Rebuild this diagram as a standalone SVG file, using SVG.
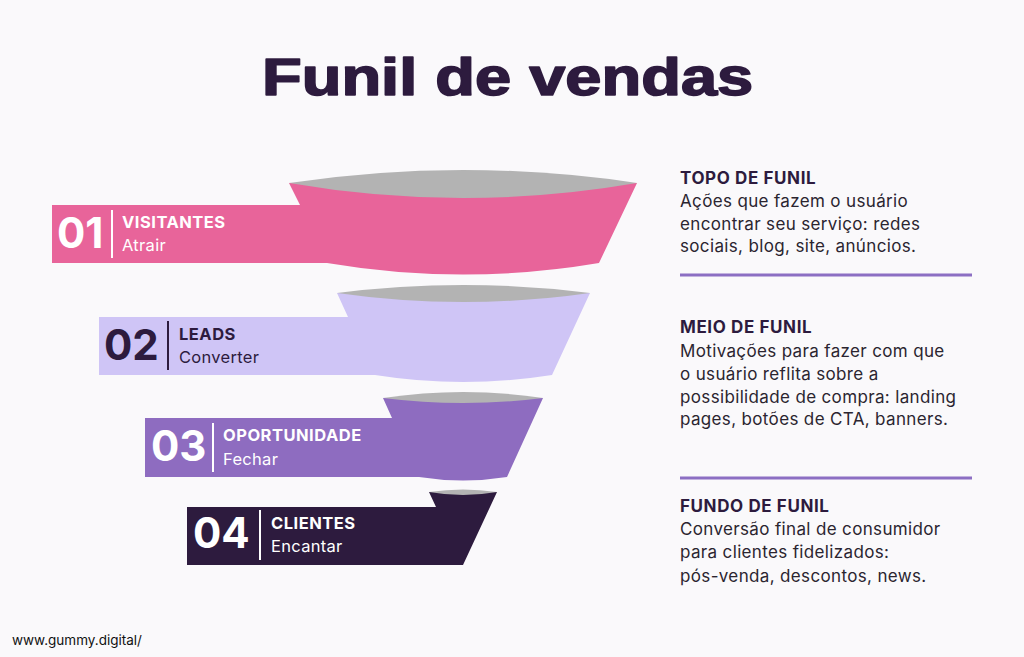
<svg xmlns="http://www.w3.org/2000/svg" width="1024" height="657" viewBox="0 0 1024 657">
<style>
.num{font-family:Inter,"Noto Sans","DejaVu Sans",sans-serif;font-weight:700;font-size:42px}
.lab{font-family:Inter,"Noto Sans","DejaVu Sans",sans-serif;font-weight:700;font-size:16.5px;letter-spacing:0.5px}
.sub{font-family:Inter,"Noto Sans","DejaVu Sans",sans-serif;font-weight:400;font-size:16.5px;letter-spacing:0.3px}
.head{font-family:Inter,"Noto Sans","DejaVu Sans",sans-serif;font-weight:700;font-size:17px;letter-spacing:0.6px;fill:#2D1B3E}
.body{font-family:Inter,"Noto Sans","DejaVu Sans",sans-serif;font-weight:400;font-size:17px;letter-spacing:0.35px;fill:#2B2530}
.w{fill:#FFFFFF}
.d{fill:#2D1B3E}
.lens{fill:#B3B3B3}
.rule{stroke:#8C6FC3;stroke-width:3}
</style>
<rect width="1024" height="657" fill="#FAF9FB"/>
<text transform="translate(262,95) scale(1.25,1)" font-family="'Liberation Sans','DejaVu Sans',sans-serif" font-weight="700" font-size="52" fill="#2D1B3E" stroke="#2D1B3E" stroke-width="1.6" stroke-linejoin="round">Funil de vendas</text>

<g id="stage1">
<path d="M289,183 L300,205 L52,205 L52,263 L327,263 Q463,286 599,263 L637,183 Z" fill="#E8649A"/>
<path class="lens" d="M289,183 Q463,157 637,183 Q463,213 289,183 Z"/>
<text class="num w" x="57" y="248">01</text>
<line x1="112" y1="210" x2="112" y2="258" stroke="#FFFFFF" stroke-width="2"/>
<text class="lab w" x="122" y="228">VISITANTES</text>
<text class="sub w" x="122" y="251">Atrair</text>
</g>

<g id="stage2">
<path d="M337,293 L348,317 L99,317 L99,375 L375,375 Q463,389 552,375 L590,293 Z" fill="#CFC5F6"/>
<path class="lens" d="M337,293 Q463,277 590,293 Q463,311 337,293 Z"/>
<text class="num d" x="104" y="360">02</text>
<line x1="168" y1="321" x2="168" y2="370" stroke="#2D1B3E" stroke-width="2"/>
<text class="lab d" x="179" y="340">LEADS</text>
<text class="sub d" x="179" y="363">Converter</text>
</g>

<g id="stage3">
<path d="M383,398 L392,418 L145,418 L145,477 L419,477 Q463,484 507,477 L543,398 Z" fill="#8E6CC0"/>
<path class="lens" d="M383,398 Q463,386 543,398 Q463,408 383,398 Z"/>
<text class="num w" x="151" y="461">03</text>
<line x1="213" y1="423" x2="213" y2="472" stroke="#FFFFFF" stroke-width="2"/>
<text class="lab w" x="223" y="441">OPORTUNIDADE</text>
<text class="sub w" x="223" y="465">Fechar</text>
</g>

<g id="stage4">
<path d="M429,492 L436,507 L187,507 L187,565 L463,565 L497,492 Z" fill="#2D1B3E"/>
<path class="lens" d="M429,492 Q463,487 497,492 Q463,498 429,492 Z"/>
<text class="num w" x="193" y="548">04</text>
<line x1="260" y1="510" x2="260" y2="560" stroke="#FFFFFF" stroke-width="2"/>
<text class="lab w" x="271" y="529">CLIENTES</text>
<text class="sub w" x="271" y="552">Encantar</text>
</g>

<g id="topo">
<text class="head" x="680" y="184">TOPO DE FUNIL</text>
<text class="body" x="680" y="207">Ações que fazem o usuário</text>
<text class="body" x="680" y="230">encontrar seu serviço: redes</text>
<text class="body" x="680" y="252">sociais, blog, site, anúncios.</text>
<line class="rule" x1="680" y1="275" x2="972" y2="275"/>
</g>

<g id="meio">
<text class="head" x="680" y="333">MEIO DE FUNIL</text>
<text class="body" x="680" y="357">Motivações para fazer com que</text>
<text class="body" x="680" y="380">o usuário reflita sobre a</text>
<text class="body" x="680" y="403">possibilidade de compra: landing</text>
<text class="body" x="680" y="425">pages, botões de CTA, banners.</text>
<line class="rule" x1="680" y1="478" x2="972" y2="478"/>
</g>

<g id="fundo">
<text class="head" x="680" y="512">FUNDO DE FUNIL</text>
<text class="body" x="680" y="535">Conversão final de consumidor</text>
<text class="body" x="680" y="558">para clientes fidelizados:</text>
<text class="body" x="680" y="582">pós-venda, descontos, news.</text>
</g>

<g id="connectors"></g>

<text x="12" y="645" font-family="Inter,'Noto Sans',sans-serif" font-size="13.5" fill="#111111">www.gummy.digital/</text>
</svg>
